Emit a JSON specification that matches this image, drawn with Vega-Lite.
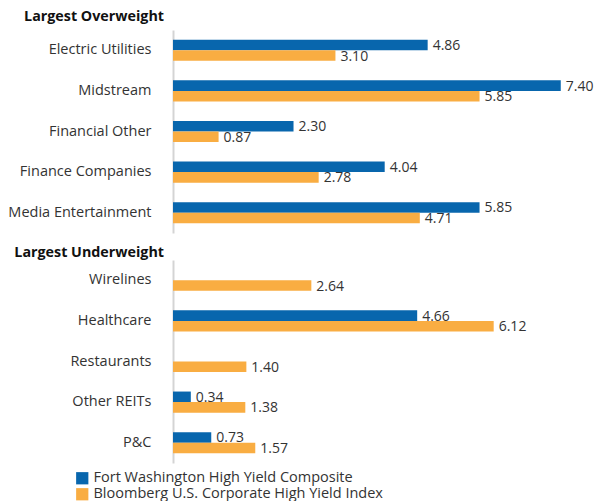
{
  "$schema": "https://vega.github.io/schema/vega-lite/v6.json",
  "padding": {"left": 7, "top": 9, "right": 0, "bottom": 0},
  "background": "white",
  "config": {
    "font": "Open Sans",
    "view": {"stroke": null},
    "axis": {"labelFont": "Open Sans", "labelFontSize": 14.5, "labelColor": "#333333", "ticks": false, "grid": false, "domainColor": "#d4d4d4", "domainWidth": 2, "labelPadding": 22, "title": null, "labelLimit": 300},
    "concat": {"spacing": 12},
    "title": {"font": "Open Sans", "fontSize": 14.3, "fontWeight": "bold", "color": "#111111", "anchor": "start", "frame": "group", "offset": 6}
  },
  "datasets": {
    "over": [
      {"category": "Electric Utilities", "series": "Fort Washington High Yield Composite", "value": 4.86},
      {"category": "Electric Utilities", "series": "Bloomberg U.S. Corporate High Yield Index", "value": 3.10},
      {"category": "Midstream", "series": "Fort Washington High Yield Composite", "value": 7.40},
      {"category": "Midstream", "series": "Bloomberg U.S. Corporate High Yield Index", "value": 5.85},
      {"category": "Financial Other", "series": "Fort Washington High Yield Composite", "value": 2.30},
      {"category": "Financial Other", "series": "Bloomberg U.S. Corporate High Yield Index", "value": 0.87},
      {"category": "Finance Companies", "series": "Fort Washington High Yield Composite", "value": 4.04},
      {"category": "Finance Companies", "series": "Bloomberg U.S. Corporate High Yield Index", "value": 2.78},
      {"category": "Media Entertainment", "series": "Fort Washington High Yield Composite", "value": 5.85},
      {"category": "Media Entertainment", "series": "Bloomberg U.S. Corporate High Yield Index", "value": 4.71}
    ],
    "under": [
      {"category": "Wirelines", "series": "Bloomberg U.S. Corporate High Yield Index", "value": 2.64},
      {"category": "Healthcare", "series": "Fort Washington High Yield Composite", "value": 4.66},
      {"category": "Healthcare", "series": "Bloomberg U.S. Corporate High Yield Index", "value": 6.12},
      {"category": "Restaurants", "series": "Bloomberg U.S. Corporate High Yield Index", "value": 1.40},
      {"category": "Other REITs", "series": "Fort Washington High Yield Composite", "value": 0.34},
      {"category": "Other REITs", "series": "Bloomberg U.S. Corporate High Yield Index", "value": 1.38},
      {"category": "P&C", "series": "Fort Washington High Yield Composite", "value": 0.73},
      {"category": "P&C", "series": "Bloomberg U.S. Corporate High Yield Index", "value": 1.57}
    ]
  },
  "vconcat": [
    {
      "title": {"text": "Largest Overweight", "align": "right", "dx": -9},
      "width": 393,
      "height": 203,
      "data": {"name": "over"},
      "encoding": {
        "y": {"field": "category", "type": "nominal", "sort": ["Electric Utilities", "Midstream", "Financial Other", "Finance Companies", "Media Entertainment"], "scale": {"paddingInner": 0.48, "paddingOuter": 0.24}, "axis": {}},
        "yOffset": {"field": "series", "type": "nominal", "sort": ["Fort Washington High Yield Composite", "Bloomberg U.S. Corporate High Yield Index"], "scale": {"domain": ["Fort Washington High Yield Composite", "Bloomberg U.S. Corporate High Yield Index"], "paddingInner": 0, "paddingOuter": 0}},
        "x": {"field": "value", "type": "quantitative", "scale": {"domain": [0, 7.5], "nice": false}, "axis": null}
      },
      "layer": [
        {"mark": {"type": "bar"},
         "encoding": {"color": {"field": "series", "type": "nominal", "scale": {"domain": ["Fort Washington High Yield Composite", "Bloomberg U.S. Corporate High Yield Index"], "range": ["#0866ad", "#f9ad42"]}, "legend": {"orient": "none", "legendX": -98, "legendY": 441, "direction": "vertical", "title": null, "symbolType": "square", "symbolSize": 150, "symbolStrokeWidth": 0, "symbolOpacity": 1, "labelFontSize": 14.5, "labelFont": "Open Sans", "labelColor": "#333333", "rowPadding": 1, "labelOffset": 4, "labelLimit": 500}}}},
        {"mark": {"type": "text", "align": "left", "baseline": "middle", "dx": 5, "dy": 1, "fontSize": 14, "color": "#333333"},
         "encoding": {"text": {"field": "value", "type": "quantitative", "format": ".2f"}}}
      ]
    },
    {
      "title": {"text": "Largest Underweight", "align": "right", "dx": -9, "offset": 0},
      "width": 393,
      "height": 203,
      "data": {"name": "under"},
      "encoding": {
        "y": {"field": "category", "type": "nominal", "sort": ["Wirelines", "Healthcare", "Restaurants", "Other REITs", "P&C"], "scale": {"paddingInner": 0.48, "paddingOuter": 0.24}, "axis": {}},
        "yOffset": {"field": "series", "type": "nominal", "sort": ["Fort Washington High Yield Composite", "Bloomberg U.S. Corporate High Yield Index"], "scale": {"domain": ["Fort Washington High Yield Composite", "Bloomberg U.S. Corporate High Yield Index"], "paddingInner": 0, "paddingOuter": 0}},
        "x": {"field": "value", "type": "quantitative", "scale": {"domain": [0, 7.5], "nice": false}, "axis": null}
      },
      "layer": [
        {"mark": {"type": "bar"},
         "encoding": {"color": {"field": "series", "type": "nominal", "scale": {"domain": ["Fort Washington High Yield Composite", "Bloomberg U.S. Corporate High Yield Index"], "range": ["#0866ad", "#f9ad42"]}}}},
        {"mark": {"type": "text", "align": "left", "baseline": "middle", "dx": 5, "dy": 1, "fontSize": 14, "color": "#333333"},
         "encoding": {"text": {"field": "value", "type": "quantitative", "format": ".2f"}}}
      ]
    }
  ]
}
